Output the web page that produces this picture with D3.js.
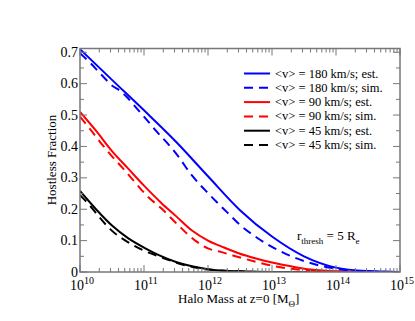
<!DOCTYPE html>
<html><head><meta charset="utf-8">
<script src="https://cdn.jsdelivr.net/npm/d3@7"></script>
<style>body{margin:0;background:#fff}svg{display:block}svg text{font-family:"Liberation Serif",serif}</style>
</head><body>
<script>
// log10 halo mass and hostless fraction
const blueEstX = [10.0,10.5,11.0,11.5,12.0,12.5,13.0,13.5,14.0,14.5,15.0];
const blueEstY = [0.710,0.612,0.515,0.415,0.305,0.197,0.113,0.05,0.014,0.003,0.0];
const blueSimX = [10.0,10.17,10.35,10.5,10.62,10.72,10.85,11.0,11.2,11.41,11.53,11.72,12.03,12.3,12.5,12.76,13.0,13.28,13.5,13.8,14.0,14.5,15.0];
const blueSimY = [0.697,0.664,0.625,0.594,0.578,0.56,0.53,0.495,0.447,0.40,0.37,0.315,0.245,0.19,0.15,0.11,0.08,0.052,0.035,0.018,0.01,0.002,0.0];
const redEstX = [10.0,10.25,10.5,10.75,11.0,11.27,11.5,11.75,12.0,12.25,12.5,12.75,13.0,13.3,13.6,14.0,14.5,15.0];
const redEstY = [0.51,0.45,0.385,0.33,0.275,0.22,0.178,0.132,0.10,0.078,0.058,0.043,0.03,0.018,0.008,0.002,0.0,0.0];
const redSimX = [10.0,10.17,10.33,10.48,10.65,10.8,11.06,11.27,11.53,11.8,12.0,12.2,12.4,12.76,13.0,13.3,13.6,14.0,15.0];
const redSimY = [0.495,0.452,0.41,0.373,0.335,0.30,0.24,0.203,0.15,0.10,0.075,0.064,0.052,0.032,0.02,0.01,0.004,0.001,0.0];
const blackEstX = [10.0,10.25,10.5,10.75,11.0,11.25,11.5,11.75,12.0,12.5,13.0,15.0];
const blackEstY = [0.258,0.20,0.148,0.108,0.078,0.052,0.032,0.018,0.009,0.002,0.0,0.0];
const blackSimX = [10.0,10.14,10.28,10.48,10.75,11.0,11.27,11.53,11.8,12.0,12.5,13.0,15.0];
const blackSimY = [0.245,0.215,0.18,0.135,0.095,0.068,0.047,0.028,0.014,0.008,0.002,0.0,0.0];
const seriesNames = ["<v> = 180 km/s; est.","<v> = 180 km/s; sim.","<v> = 90 km/s; est.","<v> = 90 km/s; sim.","<v> = 45 km/s; est.","<v> = 45 km/s; sim."];
const seriesColors = ["#0000ff","#0000ff","#ff0000","#ff0000","#000000","#000000"];
const seriesDashed = [false,true,false,true,false,true];
const xTickExps = [10,11,12,13,14,15];
const yTicks = [0,0.1,0.2,0.3,0.4,0.5,0.6,0.7];

const seriesX = [blueEstX,blueSimX,redEstX,redSimX,blackEstX,blackSimX];
const seriesY = [blueEstY,blueSimY,redEstY,redSimY,blackEstY,blackSimY];

const W=415,H=321, L=80,R=400,T=48.5,B=272;
const svg=d3.select("body").append("svg").attr("width",W).attr("height",H);
const x=d3.scaleLinear().domain([10,15]).range([L,R]);
const y=d3.scaleLinear().domain([0,0.712]).range([B,T]);
const axisCol="#777";

svg.append("clipPath").attr("id","clip").append("rect").attr("x",L).attr("y",T).attr("width",R-L).attr("height",B-T);

const line=d3.line().x(d=>x(d[0])).y(d=>y(d[1])).curve(d3.curveMonotoneX);
const g=svg.append("g").attr("clip-path","url(#clip)");
[4,5,2,3,0,1].forEach(i=>{
  const pts=seriesX[i].map((v,k)=>[v,seriesY[i][k]]);
  g.append("path").attr("d",line(pts)).attr("fill","none").attr("stroke",seriesColors[i])
   .attr("stroke-width",2).attr("stroke-dasharray",seriesDashed[i]?"9,6":null);
});

svg.append("rect").attr("x",L).attr("y",T).attr("width",R-L).attr("height",B-T)
  .attr("fill","none").attr("stroke",axisCol).attr("stroke-width",1.5);

const ticks=svg.append("g").attr("stroke",axisCol).attr("stroke-width",1);
xTickExps.forEach(e=>{
  const px=x(e);
  ticks.append("line").attr("x1",px).attr("x2",px).attr("y1",B).attr("y2",B-7);
  ticks.append("line").attr("x1",px).attr("x2",px).attr("y1",T).attr("y2",T+7);
  if(e<15){for(let m=2;m<=9;m++){const mx=x(e+Math.log10(m));
    ticks.append("line").attr("x1",mx).attr("x2",mx).attr("y1",B).attr("y2",B-4);
    ticks.append("line").attr("x1",mx).attr("x2",mx).attr("y1",T).attr("y2",T+4);}}
});
d3.range(0,0.7001,0.05).forEach((v,i)=>{
  const py=y(v), len=(i%2===0)?7:4;
  ticks.append("line").attr("x1",L).attr("x2",L+len).attr("y1",py).attr("y2",py);
  ticks.append("line").attr("x1",R).attr("x2",R-len).attr("y1",py).attr("y2",py);
});

yTicks.forEach(v=>{
  svg.append("text").attr("x",L-2).attr("y",y(v)+4.5).attr("text-anchor","end")
   .attr("font-size",14).text(v===0?"0":d3.format(".1f")(v));
});
xTickExps.forEach(e=>{
  const t=svg.append("text").attr("x",x(e)-10).attr("y",289.5).attr("text-anchor","start").attr("font-size",14);
  t.append("tspan").text("10");
  t.append("tspan").attr("dy",-6).attr("font-size",10).text(e);
});
const xt=svg.append("text").attr("x",178).attr("y",303).attr("text-anchor","start").attr("font-size",13);
xt.append("tspan").text("Halo Mass at z=0 [M");
xt.append("tspan").attr("dy",4).attr("font-size",9).text("Θ");
xt.append("tspan").attr("dy",-4).text("]");
svg.append("text").attr("transform","translate(56,160) rotate(-90)").attr("text-anchor","middle")
  .attr("font-size",13).text("Hostless Fraction");

seriesNames.forEach((n,i)=>{
  const ly=73.5+i*14.3;
  svg.append("line").attr("x1",244).attr("x2",270).attr("y1",ly).attr("y2",ly)
    .attr("stroke",seriesColors[i]).attr("stroke-width",2).attr("stroke-dasharray",seriesDashed[i]?"9,6":null);
  svg.append("text").attr("x",275).attr("y",ly+4).attr("font-size",12.5).text(n);
});

const an=svg.append("text").attr("x",297).attr("y",240).attr("font-size",13);
an.append("tspan").text("r");
an.append("tspan").attr("dy",4).attr("font-size",9).text("thresh");
an.append("tspan").attr("dy",-4).text(" = 5 R");
an.append("tspan").attr("dy",4).attr("font-size",9).text("e");
</script>
</body></html>
